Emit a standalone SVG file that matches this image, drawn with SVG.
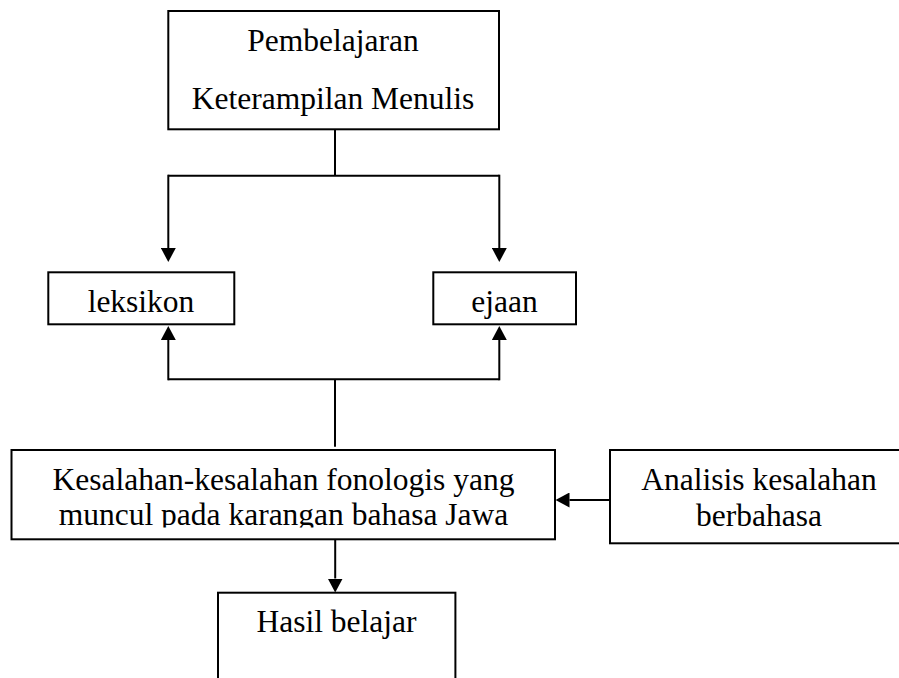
<svg xmlns="http://www.w3.org/2000/svg" width="899" height="678" viewBox="0 0 899 678">
  <style>
    .box { fill: #ffffff; stroke: #000000; stroke-width: 2; }
    .lbl { font-family: "Liberation Serif", "Times New Roman", serif; font-size: 31.5px; fill: #000000; text-anchor: middle; }
    .con { fill: none; stroke: #000000; stroke-width: 2; }
    .arr { fill: none; stroke: #000000; stroke-width: 2; marker-end: url(#head); }
  </style>
  <defs>
    <marker id="head" viewBox="0 0 14 15" refX="0" refY="7.5" markerWidth="14" markerHeight="15" markerUnits="userSpaceOnUse" orient="auto">
      <path d="M0,0 L14,7.5 L0,15 z" fill="#000000"/>
    </marker>
    <clipPath id="clipKes">
      <rect x="12" y="451" width="542" height="76.5"/>
    </clipPath>
  </defs>
  <rect width="899" height="678" fill="#ffffff"/>

  <g id="connectors">
    <path class="con" d="M335,129.5 V175.7"/>
    <path class="con" d="M168.3,175.7 H499.3"/>
    <path class="arr" d="M168.3,174.7 V248"/>
    <path class="arr" d="M499.3,174.7 V248"/>
    <path class="con" d="M335,446.7 V379.3"/>
    <path class="con" d="M168.3,379.3 H499.3"/>
    <path class="arr" d="M168.3,380.3 V340"/>
    <path class="arr" d="M499.3,380.3 V340"/>
    <path class="arr" d="M335.2,539.5 V578.5"/>
    <path class="arr" d="M610,500 H569.5"/>
  </g>

  <g id="node-pembelajaran">
    <rect class="box" x="168.3" y="11" width="330.7" height="118.3"/>
    <text class="lbl" x="333" y="51">Pembelajaran</text>
    <text class="lbl" x="333" y="108.5">Keterampilan Menulis</text>
  </g>

  <g id="node-leksikon">
    <rect class="box" x="48.3" y="272.3" width="186" height="52"/>
    <text class="lbl" x="141" y="312.3">leksikon</text>
  </g>

  <g id="node-ejaan">
    <rect class="box" x="433.3" y="272.3" width="142.7" height="52"/>
    <text class="lbl" x="504.5" y="312.3">ejaan</text>
  </g>

  <g id="node-kesalahan">
    <rect class="box" x="11.5" y="450" width="543.5" height="89.3"/>
    <g clip-path="url(#clipKes)">
      <text class="lbl" x="283.5" y="490">Kesalahan-kesalahan fonologis yang</text>
      <text class="lbl" x="283.5" y="525">muncul pada karangan bahasa Jawa</text>
    </g>
  </g>

  <g id="node-analisis">
    <rect class="box" x="610" y="450" width="320" height="93.3"/>
    <text class="lbl" x="759" y="490">Analisis kesalahan</text>
    <text class="lbl" x="759" y="526">berbahasa</text>
  </g>

  <g id="node-hasil">
    <rect class="box" x="218" y="592.7" width="237.4" height="120"/>
    <text class="lbl" x="336.5" y="631.7">Hasil belajar</text>
  </g>
</svg>
